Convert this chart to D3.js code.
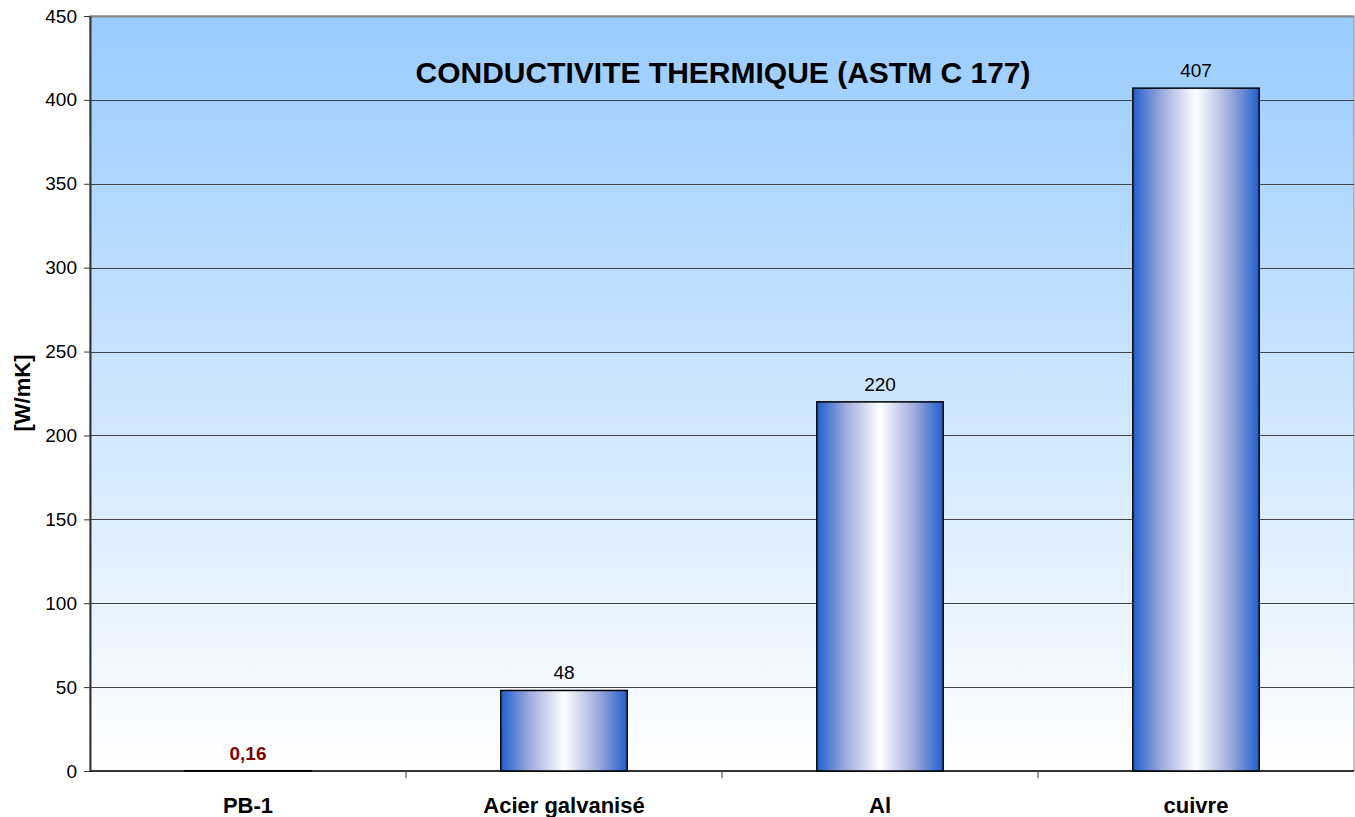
<!DOCTYPE html>
<html>
<head>
<meta charset="utf-8">
<script src="https://cdn.jsdelivr.net/npm/d3@7"></script>
<style>
  body { margin: 0; background: #fff; }
  svg { font-family: "Liberation Sans", Arial, sans-serif; }
</style>
</head>
<body>
<svg width="1355" height="817"></svg>
<script>
const categories = ["PB-1", "Acier galvanisé", "Al", "cuivre"];
const values = [0.16, 48, 220, 407];
const valueLabels = ["0,16", "48", "220", "407"];
const yTicks = [0, 50, 100, 150, 200, 250, 300, 350, 400, 450];

const plotLeft = 90, plotRight = 1354, plotTop = 16, plotBottom = 771;

const svg = d3.select("svg");
const defs = svg.append("defs");

const bg = defs.append("linearGradient").attr("id", "bg")
  .attr("x1", 0).attr("y1", 0).attr("x2", 0).attr("y2", 1);
bg.append("stop").attr("offset", "0%").attr("stop-color", "#99ccff");
bg.append("stop").attr("offset", "100%").attr("stop-color", "#ffffff");

const barGrad = defs.append("linearGradient").attr("id", "bar")
  .attr("x1", 0).attr("y1", 0).attr("x2", 1).attr("y2", 0);
barGrad.append("stop").attr("offset", "0%").attr("stop-color", "#1f5fcc");
barGrad.append("stop").attr("offset", "22%").attr("stop-color", "#9aa8dc");
barGrad.append("stop").attr("offset", "50%").attr("stop-color", "#ffffff");
barGrad.append("stop").attr("offset", "78%").attr("stop-color", "#9aa8dc");
barGrad.append("stop").attr("offset", "100%").attr("stop-color", "#1f5fcc");

const x = d3.scaleBand().domain(categories).range([plotLeft, plotRight]).paddingInner(0.6).paddingOuter(0.3);
const xEdges = d3.scaleBand().domain(categories).range([plotLeft, plotRight]);
const y = d3.scaleLinear().domain([0, 450]).range([plotBottom, plotTop]);

// plot background
svg.append("rect")
  .attr("x", plotLeft).attr("y", plotTop)
  .attr("width", plotRight - plotLeft).attr("height", plotBottom - plotTop)
  .attr("fill", "url(#bg)")
  .attr("stroke", "#888").attr("stroke-width", 1);

// gridlines
svg.append("g")
  .selectAll("line")
  .data(yTicks.slice(1, -1))
  .join("line")
  .attr("x1", plotLeft).attr("x2", plotRight)
  .attr("y1", d => Math.round(y(d)) + 0.5).attr("y2", d => Math.round(y(d)) + 0.5)
  .attr("stroke", "#444").attr("stroke-width", 1);

svg.append("line")
  .attr("x1", plotLeft).attr("x2", plotRight)
  .attr("y1", plotTop + 0.5).attr("y2", plotTop + 0.5)
  .attr("stroke", "#888").attr("stroke-width", 2);

// y axis
const yAxis = svg.append("g")
  .attr("transform", `translate(${plotLeft},0)`)
  .call(d3.axisLeft(y).tickValues(yTicks).tickSize(6).tickPadding(7).tickSizeOuter(0));
yAxis.select(".domain").attr("stroke", "#333").attr("stroke-width", 2);
yAxis.selectAll(".tick line").attr("stroke", "#333");
yAxis.selectAll("text").attr("font-size", 19).attr("fill", "#000")
  .attr("font-family", "'Liberation Sans', Arial, sans-serif");

// x axis
svg.append("line")
  .attr("x1", plotLeft).attr("x2", plotRight)
  .attr("y1", plotBottom).attr("y2", plotBottom)
  .attr("stroke", "#333").attr("stroke-width", 2);
svg.append("g")
  .selectAll("line")
  .data(categories.slice(1))
  .join("line")
  .attr("x1", d => xEdges(d)).attr("x2", d => xEdges(d))
  .attr("y1", plotBottom).attr("y2", plotBottom + 7)
  .attr("stroke", "#333").attr("stroke-width", 1);

svg.append("g")
  .selectAll("text")
  .data(categories)
  .join("text")
  .attr("x", d => xEdges(d) + xEdges.bandwidth() / 2)
  .attr("y", 813)
  .attr("text-anchor", "middle")
  .attr("font-size", 22).attr("font-weight", "bold")
  .text(d => d);

// bars
svg.append("g")
  .selectAll("rect")
  .data(categories)
  .join("rect")
  .attr("x", d => x(d))
  .attr("y", (d, i) => y(values[i]))
  .attr("width", x.bandwidth())
  .attr("height", (d, i) => plotBottom - y(values[i]))
  .attr("fill", "url(#bar)")
  .attr("stroke", "#000").attr("stroke-width", 1.5);

// value labels
svg.append("g")
  .selectAll("text")
  .data(categories)
  .join("text")
  .attr("x", d => x(d) + x.bandwidth() / 2)
  .attr("y", (d, i) => y(values[i]) - 11)
  .attr("text-anchor", "middle")
  .attr("font-size", 19)
  .attr("font-weight", (d, i) => i === 0 ? "bold" : "normal")
  .attr("fill", (d, i) => i === 0 ? "#800000" : "#000")
  .text((d, i) => valueLabels[i]);

// title
svg.append("text")
  .attr("x", 723).attr("y", 83)
  .attr("text-anchor", "middle")
  .attr("font-size", 30).attr("font-weight", "bold")
  .text("CONDUCTIVITE THERMIQUE (ASTM C 177)");

// y axis title
svg.append("text")
  .attr("transform", "translate(30,393) rotate(-90)")
  .attr("text-anchor", "middle")
  .attr("font-size", 22).attr("font-weight", "bold")
  .text("[W/mK]");
</script>
</body>
</html>
